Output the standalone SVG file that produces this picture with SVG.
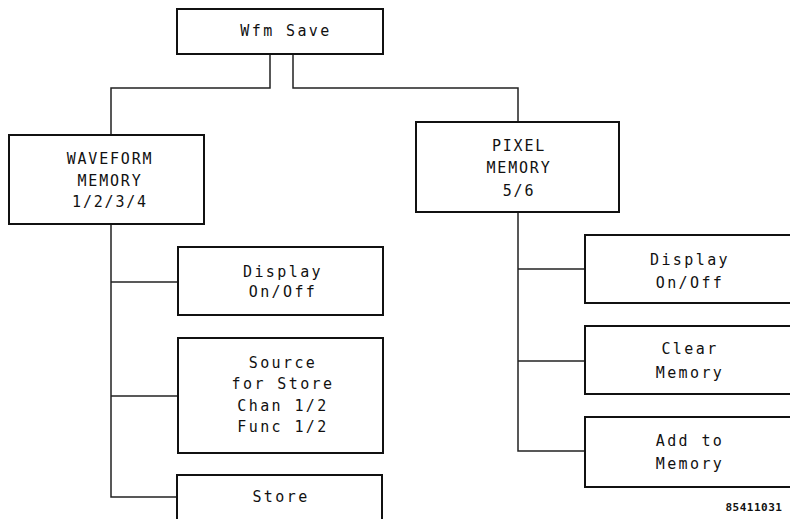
<svg xmlns="http://www.w3.org/2000/svg" width="790" height="519" viewBox="0 0 790 519">
<style>
.box{fill:#fff;stroke:#111;stroke-width:2}
.con{fill:none;stroke:#222;stroke-width:1.5}
.t{font-family:"DejaVu Sans Mono","Liberation Mono",monospace;font-size:15px;letter-spacing:2.4px;text-anchor:middle;fill:#111}
.tc{font-family:"DejaVu Sans Mono","Liberation Mono",monospace;font-size:15px;letter-spacing:1.8px;text-anchor:middle;fill:#111}
.id{font-family:"DejaVu Sans Mono","Liberation Mono",monospace;font-size:11px;font-weight:bold;letter-spacing:0.5px;text-anchor:middle;fill:#111}
</style>
<rect width="790" height="519" fill="#fff"/>
<g id="connectors">
<path class="con" d="M270 54 V88 H111 V135"/>
<path class="con" d="M293 54 V88 H518 V122"/>
<path class="con" d="M111 224 V497 H177"/>
<path class="con" d="M111 282 H178"/>
<path class="con" d="M111 396 H178"/>
<path class="con" d="M518 212 V451 H585"/>
<path class="con" d="M518 269 H585"/>
<path class="con" d="M518 361 H585"/>
</g>
<g id="wfm-save">
<rect class="box" x="177" y="9" width="206" height="45"/>
<text class="t" x="286" y="36">Wfm Save</text>
</g>
<g id="waveform-memory">
<rect class="box" x="9" y="135" width="195" height="89"/>
<text class="tc" x="110" y="164">WAVEFORM</text>
<text class="tc" x="110" y="186">MEMORY</text>
<text class="tc" x="110" y="207">1/2/3/4</text>
</g>
<g id="pixel-memory">
<rect class="box" x="416" y="122" width="203" height="90"/>
<text class="tc" x="519" y="151">PIXEL</text>
<text class="tc" x="519" y="173">MEMORY</text>
<text class="tc" x="519" y="196">5/6</text>
</g>
<g id="left-display">
<rect class="box" x="178" y="247" width="205" height="68"/>
<text class="t" x="283" y="277">Display</text>
<text class="t" x="283" y="297">On/Off</text>
</g>
<g id="source-for-store">
<rect class="box" x="178" y="338" width="205" height="115"/>
<text class="t" x="283" y="368">Source</text>
<text class="t" x="283" y="389">for Store</text>
<text class="t" x="283" y="411">Chan 1/2</text>
<text class="t" x="283" y="432">Func 1/2</text>
</g>
<g id="store">
<rect class="box" x="177" y="475" width="205" height="50"/>
<text class="t" x="281" y="502">Store</text>
</g>
<g id="right-display">
<rect class="box" x="585" y="235" width="210" height="68"/>
<text class="t" x="690" y="265">Display</text>
<text class="t" x="690" y="288">On/Off</text>
</g>
<g id="clear-memory">
<rect class="box" x="585" y="326" width="210" height="68"/>
<text class="t" x="690" y="354">Clear</text>
<text class="t" x="690" y="378">Memory</text>
</g>
<g id="add-to-memory">
<rect class="box" x="585" y="417" width="210" height="70"/>
<text class="t" x="690" y="446">Add to</text>
<text class="t" x="690" y="469">Memory</text>
</g>
<text class="id" x="754" y="511">85411031</text>
</svg>
